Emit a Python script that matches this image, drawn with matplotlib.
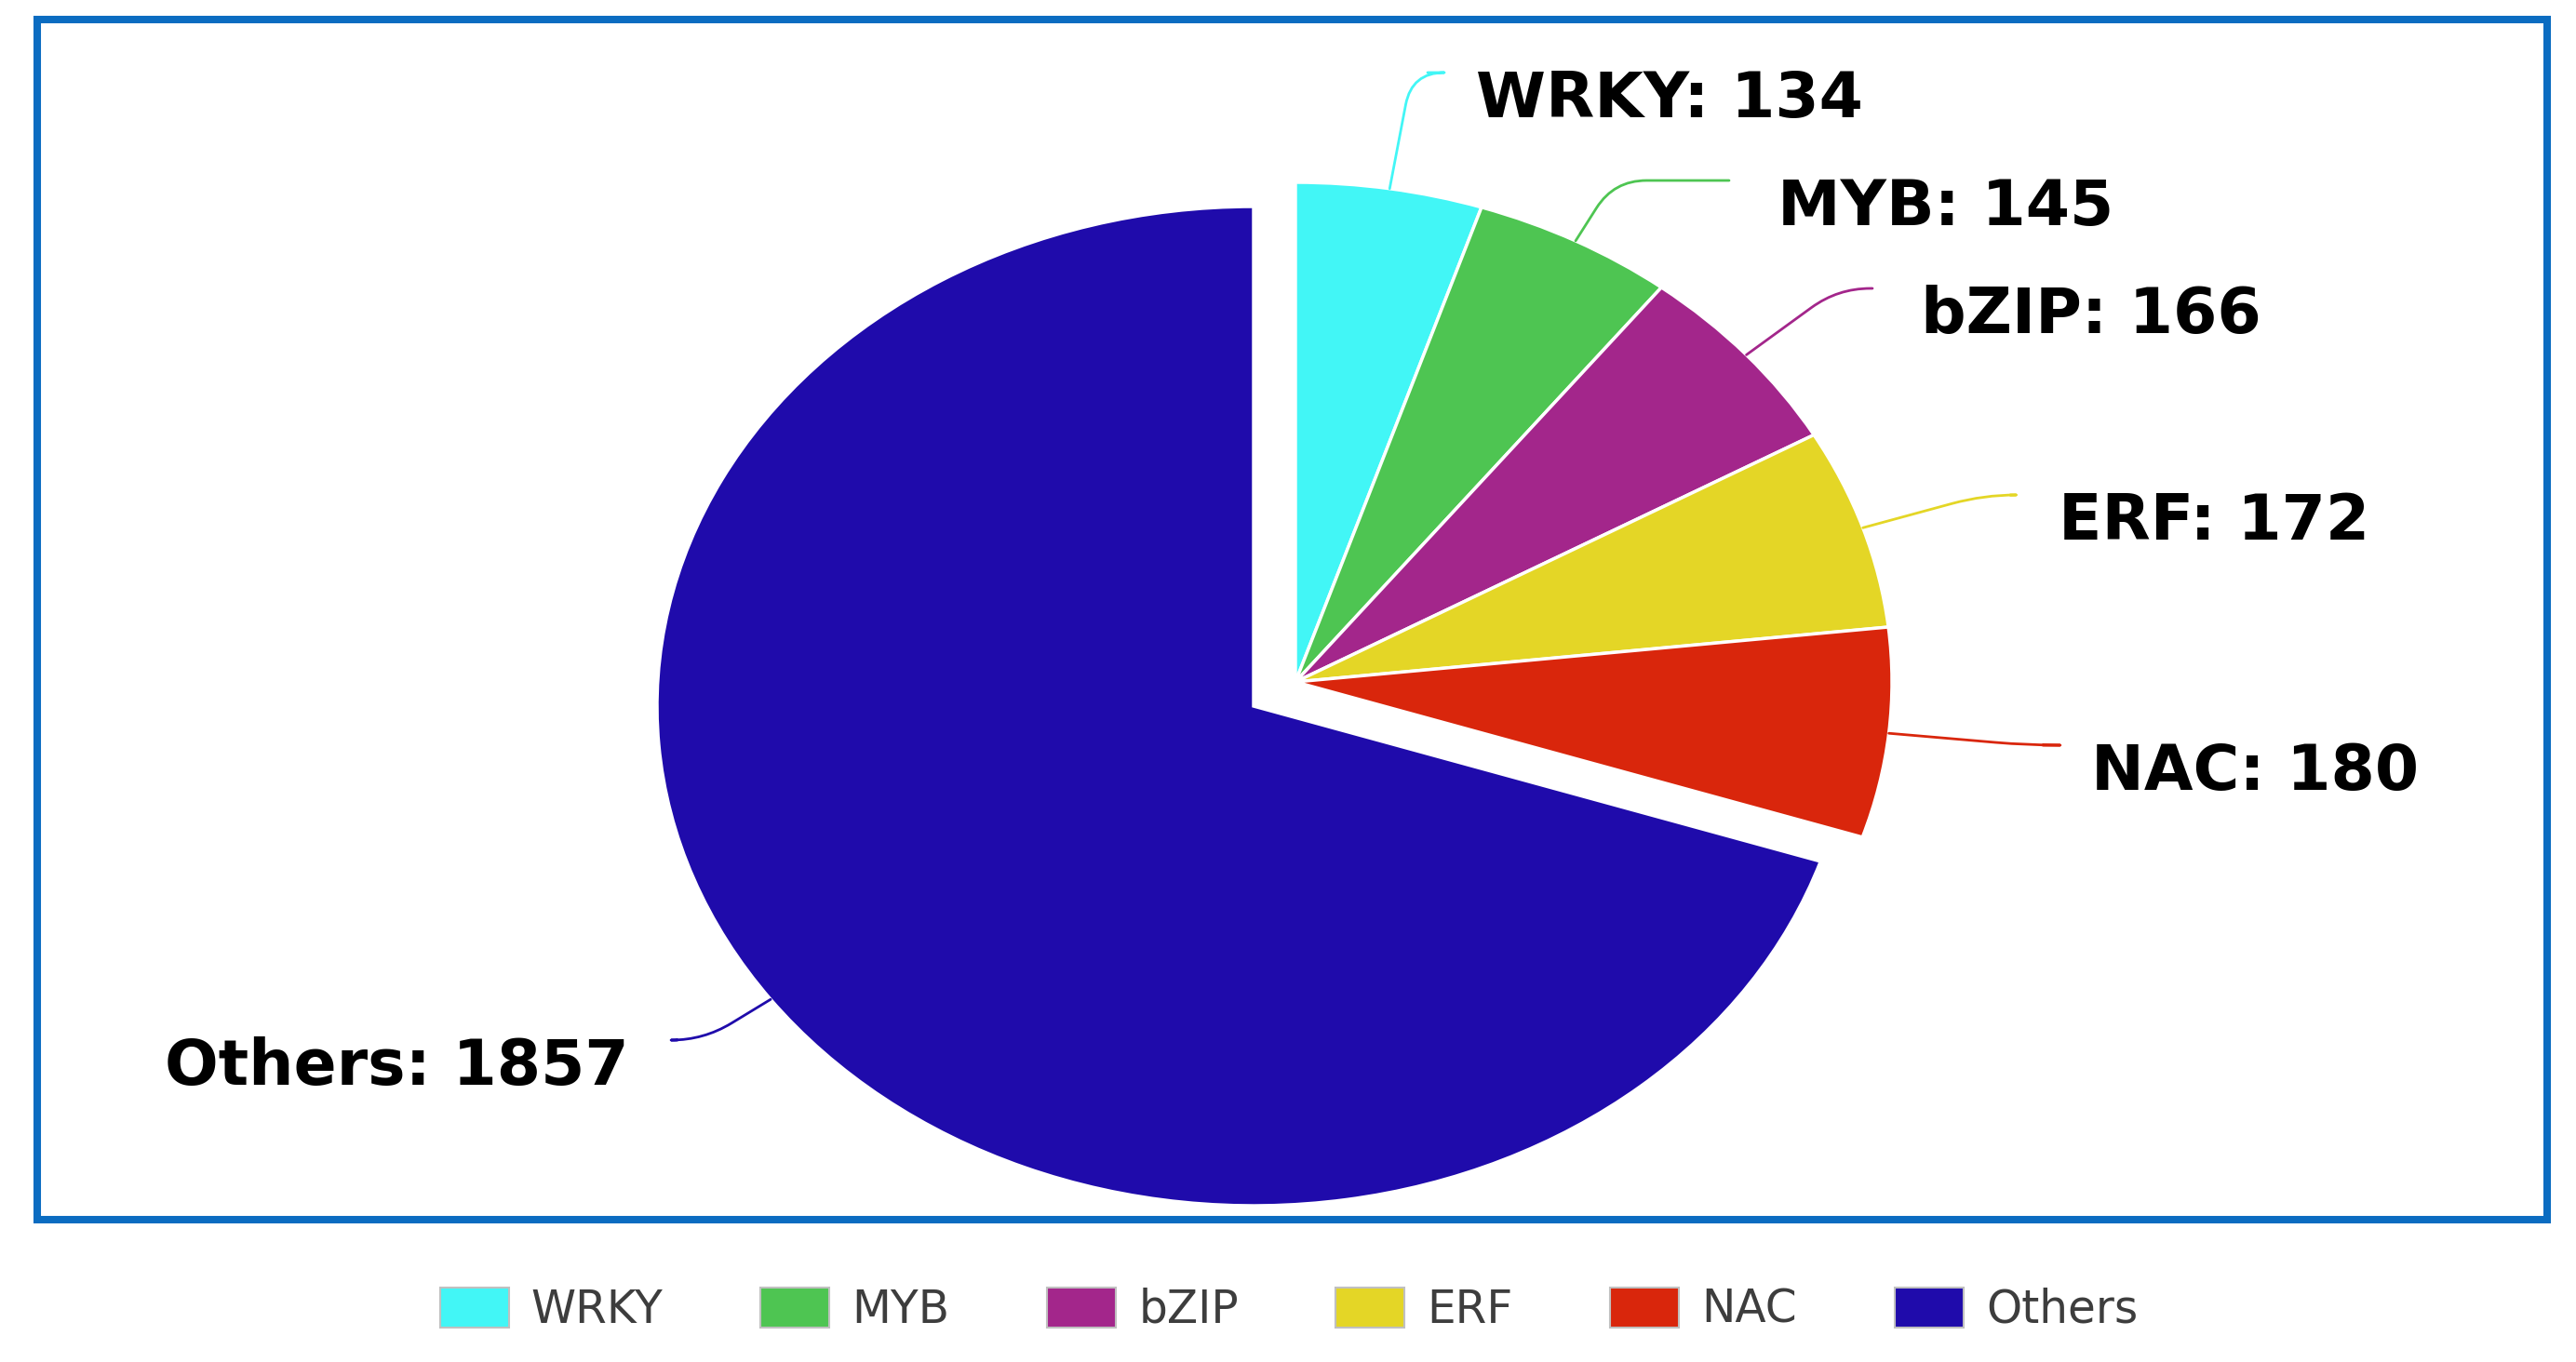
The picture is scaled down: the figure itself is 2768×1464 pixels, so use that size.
import numpy as np
import matplotlib
matplotlib.use("Agg")
import matplotlib.pyplot as plt
from matplotlib.patches import Rectangle

# data
families = ["WRKY", "MYB", "bZIP", "ERF", "NAC", "Others"]
counts = [134, 145, 166, 172, 180, 1857]
colors = ["#42f6f6", "#4ec552", "#a3268b", "#e4d626", "#d9260c", "#1f0bab"]

# layout (figure pixels)
W, H = 2768, 1464
SX, SY = 641.0, 537.0          # pixels per unit radius, x and y (pie is stretched)
big_center_px = (1347, 759)
small_center_px = (1392, 733)
# where each leader line ends (pixels)
label_end_px = [(1534, 78), (1858, 194), (2012, 310), (2160, 532), (2195, 801), (728, 1118)]


def to_data(xp, yp):
    return xp / SX, (H - yp) / SY


fig = plt.figure(figsize=(W / 100, H / 100), dpi=100)
fig.patch.set_facecolor("white")
ax = fig.add_axes([0, 0, 1, 1])

wedge_kw = dict(edgecolor="white", linewidth=2.5)
big_wedges, _ = ax.pie(counts, colors=colors, startangle=90, counterclock=False,
                       center=to_data(*big_center_px), radius=1, wedgeprops=wedge_kw)
small_wedges, _ = ax.pie(counts, colors=colors, startangle=90, counterclock=False,
                         center=to_data(*small_center_px), radius=1, wedgeprops=wedge_kw)
for w in big_wedges[:5]:
    w.set_visible(False)
small_wedges[5].set_visible(False)

ax.set_aspect("auto")
ax.set_xlim(0, W / SX)
ax.set_ylim(0, H / SY)
ax.axis("off")

# leader lines and labels
total = sum(counts)
start = 90.0
for i, (name, n) in enumerate(zip(families, counts)):
    span = n / total * 360.0
    mid = np.radians(start - span / 2)
    start -= span
    cx, cy = to_data(*(small_center_px if i < 5 else big_center_px))
    edge = (cx + np.cos(mid), cy + np.sin(mid))
    disp_ang = np.degrees(np.arctan2(np.sin(mid) * SY, np.cos(mid) * SX))
    ex, ey = label_end_px[i]
    ax.annotate("", xy=edge, xytext=to_data(ex, ey),
                arrowprops=dict(arrowstyle="-", color=colors[i], lw=2.0,
                                shrinkA=0, shrinkB=0,
                                connectionstyle=f"angle,angleA=0,angleB={disp_ang:.1f},rad=35"))
    if i < 5:
        tx, ha = ex + 52, "left"
    else:
        tx, ha = ex - 52, "right"
    ax.text(*to_data(tx, ey + 48), f"{name}: {n}", ha=ha, va="baseline",
            fontsize=49, fontweight="bold", color="black")

# blue frame around the chart
fig.patches.append(Rectangle((40 / W, (H - 1311) / H), (2737 - 40) / W, (1311 - 21) / H,
                             transform=fig.transFigure, fill=False,
                             edgecolor="#0b6cc1", linewidth=5.8))

handles = list(small_wedges[:5]) + [big_wedges[5]]
leg = fig.legend(handles, families, loc="center",
                 bbox_to_anchor=(1385 / W, 1 - 1408 / H), ncol=6, frameon=False,
                 fontsize=35, labelcolor="#3d3d3d", handlelength=1.52,
                 handleheight=0.97, handletextpad=0.5, columnspacing=2.15)
for h in leg.legend_handles:
    h.set_edgecolor("#c0c0c0")
    h.set_linewidth(1.5)

fig.savefig("out.png", dpi=100)
